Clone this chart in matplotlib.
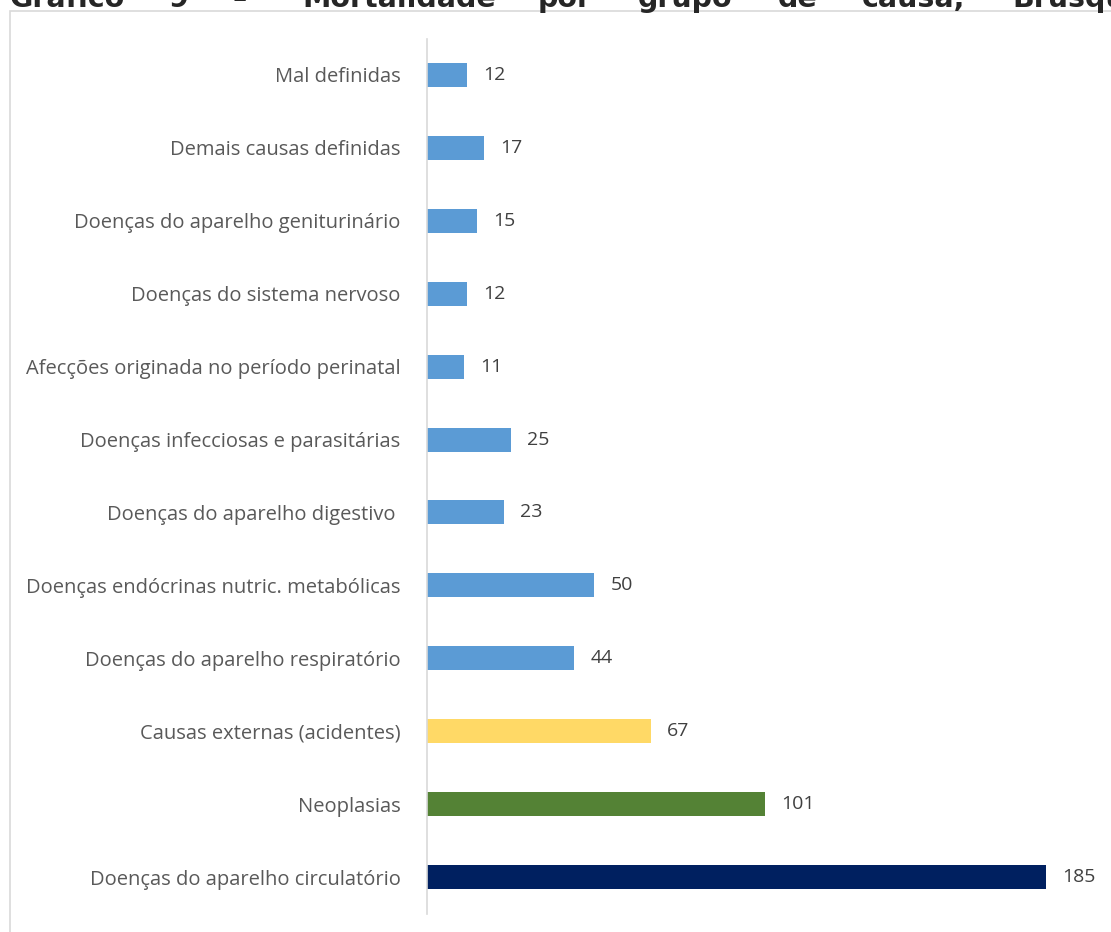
import matplotlib
matplotlib.use("Agg")
import matplotlib.pyplot as plt
from matplotlib.patches import Rectangle

categories = [
    "Doenças do aparelho circulatório",
    "Neoplasias",
    "Causas externas (acidentes)",
    "Doenças do aparelho respiratório",
    "Doenças endócrinas nutric. metabólicas",
    "Doenças do aparelho digestivo ",
    "Doenças infecciosas e parasitárias",
    "Afecções originada no período perinatal",
    "Doenças do sistema nervoso",
    "Doenças do aparelho geniturinário",
    "Demais causas definidas",
    "Mal definidas",
]
values = [185, 101, 67, 44, 50, 23, 25, 11, 12, 15, 17, 12]
colors = ["#002060", "#548235", "#FFD966"] + ["#5B9BD5"] * 9

title_words = ["Gráfico", "9", "–", "Mortalidade", "por", "grupo", "de", "causa,", "Brusque"]
title_x_px = [10, 168, 232, 302, 538, 638, 778, 862, 1012]

W, H = 1111, 932
fig = plt.figure(figsize=(W / 100, H / 100), dpi=100)
fig.patch.set_facecolor("white")

# outer chart frame
fig.patches.append(Rectangle((10 / W, -0.01), 1.1, 1 - 11 / H + 0.01,
                             transform=fig.transFigure, fill=False,
                             edgecolor="#d9d9d9", linewidth=1.2))

# justified title line, running off the top edge
for word, xp in zip(title_words, title_x_px):
    fig.text(xp / W, 1 - 7 / H, word, fontsize=20.5, fontweight="bold",
             family="DejaVu Sans", color="#262626", va="baseline", ha="left")

ax_left, ax_right = 427, 1100
ax_top, ax_bottom = 38.5, 913.5
ax = fig.add_axes([ax_left / W, 1 - ax_bottom / H,
                   (ax_right - ax_left) / W, (ax_bottom - ax_top) / H])

px_per_unit = (1046 - 427) / 185
ax.set_xlim(0, (ax_right - ax_left) / px_per_unit)
ax.set_ylim(-0.5, len(categories) - 0.5)

ypos = range(len(categories))
ax.barh(ypos, values, height=0.33, color=colors, edgecolor="none")

for y, v in zip(ypos, values):
    ax.text(v + 16 / px_per_unit, y, str(v), va="center", ha="left",
            fontsize=14, family="Open Sans", color="#404040")

ax.set_yticks(list(ypos))
ax.set_yticklabels(categories, fontsize=14.5, family="Open Sans", color="#595959")
ax.tick_params(axis="y", length=0, pad=19)
ax.set_xticks([])

for side in ["top", "right", "bottom"]:
    ax.spines[side].set_visible(False)
ax.spines["left"].set_color("#d9d9d9")
ax.spines["left"].set_linewidth(1.2)
ax.patch.set_alpha(0)

fig.savefig("out.png", dpi=100)
